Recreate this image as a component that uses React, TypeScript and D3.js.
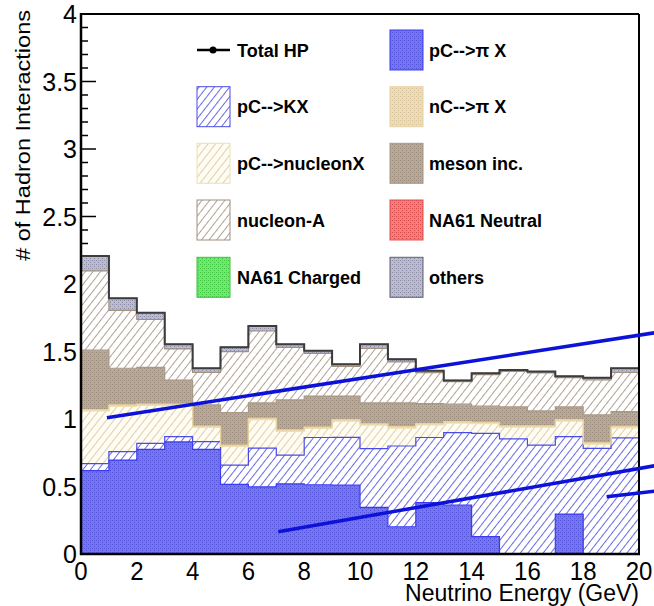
import React from 'react';
import * as d3 from 'd3';

// ---------- data (20 bins of 1 GeV) ----------
const binLow = [0, 1, 2, 3, 4, 5, 6, 7, 8, 9, 10, 11, 12, 13, 14, 15, 16, 17, 18, 19];
const binWidth = 1;

const pCpiX = [0.617, 0.696, 0.775, 0.83, 0.775, 0.516, 0.497, 0.52, 0.513, 0.51, 0.346, 0.202, 0.38, 0.363, 0.128, 0.003, 0.0, 0.296, 0.0, 0.0];
const pCKX = [0.053, 0.062, 0.045, 0.039, 0.057, 0.143, 0.288, 0.213, 0.35, 0.354, 0.434, 0.598, 0.483, 0.536, 0.766, 0.85, 0.807, 0.573, 0.783, 0.86];
const pCnucleonX = [0.39, 0.336, 0.281, 0.232, 0.106, 0.138, 0.21, 0.176, 0.067, 0.121, 0.175, 0.133, 0.093, 0.071, 0.071, 0.087, 0.133, 0.116, 0.031, 0.075];
const nCpiX = [0.01, 0.01, 0.01, 0.01, 0.01, 0.01, 0.01, 0.01, 0.01, 0.01, 0.01, 0.01, 0.01, 0.01, 0.01, 0.01, 0.01, 0.01, 0.01, 0.01];
const mesonInc = [0.44, 0.272, 0.272, 0.178, 0.156, 0.24, 0.115, 0.222, 0.23, 0.175, 0.155, 0.177, 0.149, 0.13, 0.12, 0.14, 0.11, 0.095, 0.206, 0.109];
const nucleonA = [0.587, 0.428, 0.354, 0.23, 0.242, 0.452, 0.532, 0.39, 0.316, 0.22, 0.403, 0.303, 0.228, 0.166, 0.233, 0.263, 0.281, 0.216, 0.26, 0.292];
const na61Neutral = [0, 0, 0, 0, 0, 0, 0, 0, 0, 0, 0, 0, 0, 0, 0, 0, 0, 0, 0, 0];
const na61Charged = [0, 0, 0, 0, 0, 0, 0, 0, 0, 0, 0, 0, 0, 0, 0, 0, 0, 0, 0, 0];
const others = [0.11, 0.09, 0.05, 0.034, 0.03, 0.032, 0.037, 0.022, 0.02, 0.015, 0.03, 0.02, 0.015, 0.01, 0.01, 0.01, 0.01, 0.01, 0.015, 0.03];

const xTickLabels = [0, 2, 4, 6, 8, 10, 12, 14, 16, 18, 20];
const yTickLabels = [0, 0.5, 1, 1.5, 2, 2.5, 3, 3.5, 4];

// annotation lines (data units, they run past the frame)
const annotationLines = [
  { x1: 0.93, y1: 1.01, x2: 20.6, y2: 1.64 },
  { x1: 7.07, y1: 0.165, x2: 20.6, y2: 0.655 },
  { x1: 18.84, y1: 0.424, x2: 20.6, y2: 0.467 },
];

// ---------- styles ----------
const layers = [
  { key: 'pCpiX', label: 'pC-->\u03c0 X', values: pCpiX, fill: 'url(#pDotBlue)', stroke: '#3a3af6' },
  { key: 'pCKX', label: 'pC-->KX', values: pCKX, fill: 'url(#pHatchBlue)', stroke: '#4a4ae8' },
  { key: 'pCnucleonX', label: 'pC-->nucleonX', values: pCnucleonX, fill: 'url(#pHatchCream)', stroke: '#f0dfae' },
  { key: 'nCpiX', label: 'nC-->\u03c0 X', values: nCpiX, fill: 'url(#pDotTan)', stroke: '#e8d2a0' },
  { key: 'mesonInc', label: 'meson inc.', values: mesonInc, fill: 'url(#pDotBrown)', stroke: '#a89888' },
  { key: 'nucleonA', label: 'nucleon-A', values: nucleonA, fill: 'url(#pHatchBrown)', stroke: '#a09080' },
  { key: 'na61Neutral', label: 'NA61 Neutral', values: na61Neutral, fill: 'url(#pDotRed)', stroke: '#e05050' },
  { key: 'na61Charged', label: 'NA61 Charged', values: na61Charged, fill: 'url(#pDotGreen)', stroke: '#40c040' },
  { key: 'others', label: 'others', values: others, fill: 'url(#pDotGray)', stroke: '#606070' },
];

const legendOrder = ['total', 'pCpiX', 'pCKX', 'nCpiX', 'pCnucleonX', 'mesonInc', 'nucleonA', 'na61Neutral', 'na61Charged', 'others'];

const W = 654;
const H = 606;
const FONT = "'Liberation Sans', Arial, Helvetica, sans-serif";

const x = d3.scaleLinear().domain([0, 20]).range([81, 639]);
const y = d3.scaleLinear().domain([0, 4]).range([554, 14]);

function DotPattern({ id, base, dot }: { id: string; base: string; dot: string }) {
  return (
    <pattern id={id} width={4} height={4} patternUnits="userSpaceOnUse">
      <rect width={4} height={4} fill={base} />
      <rect x={0} y={0} width={1} height={1} fill={dot} />
      <rect x={2} y={2} width={1} height={1} fill={dot} />
      <rect x={2} y={0} width={1} height={1} fill={dot} opacity={0.5} />
    </pattern>
  );
}

function HatchPattern({ id, bg, line }: { id: string; bg: string; line: string }) {
  return (
    <pattern id={id} width={6} height={6} patternUnits="userSpaceOnUse" patternTransform="rotate(38)">
      <rect width={6} height={6} fill={bg} />
      <line x1={0.5} y1={0} x2={0.5} y2={6} stroke={line} strokeWidth={1} />
    </pattern>
  );
}

export default function App() {
  const rows = binLow.map((b, i) => {
    const r: any = { b };
    layers.forEach((l) => (r[l.key] = l.values[i]));
    return r;
  });
  const stack = d3.stack().keys(layers.map((l) => l.key));
  const series = stack(rows);

  const stepPts = (s: any) => {
    const pts = s.map((d: any, i: number) => ({ x: binLow[i], y0: d[0], y1: d[1] }));
    const last = s[s.length - 1];
    pts.push({ x: binLow[binLow.length - 1] + binWidth, y0: last[0], y1: last[1] });
    return pts;
  };

  const area = d3
    .area<any>()
    .curve(d3.curveStepAfter)
    .x((d) => x(d.x))
    .y0((d) => y(d.y0))
    .y1((d) => y(d.y1));

  const topLine = (pts: any[]) => {
    const line = d3
      .line<any>()
      .curve(d3.curveStepAfter)
      .x((d) => x(d.x))
      .y((d) => y(d.y1));
    const d = line(pts) as string;
    const first = pts[0];
    const last = pts[pts.length - 1];
    return `M${x(first.x)},${y(0)}L${x(first.x)},${y(first.y1)}` + d.replace(/^M[^L]*/, '') + `L${x(last.x)},${y(0)}`;
  };

  const totalSeries = series[series.length - 1];
  const totalPts = stepPts(totalSeries);

  const yMinor = d3.range(0, 41).map((k) => k / 10);
  const xMinor = d3.range(0, 51).map((k) => k * 0.4);

  const legendRowY = [50, 106.7, 163.3, 220, 277.3];
  const legendColBoxX = [197, 390];
  const legendColTextX = [237, 429];

  return (
    <svg width={W} height={H} style={{ position: 'absolute', left: 0, top: 0, background: '#fff' }} fontFamily={FONT}>
      <defs>
        <DotPattern id="pDotBlue" base="#7676f2" dot="#5050d8" />
        <DotPattern id="pDotTan" base="#eedcb8" dot="#d8c49c" />
        <DotPattern id="pDotBrown" base="#b7a899" dot="#9a8a7a" />
        <DotPattern id="pDotRed" base="#ff7a7a" dot="#d04848" />
        <DotPattern id="pDotGreen" base="#6cec6c" dot="#40c040" />
        <DotPattern id="pDotGray" base="#bcbcd0" dot="#8a8aa4" />
        <HatchPattern id="pHatchBlue" bg="#ffffff" line="#6a6ae4" />
        <HatchPattern id="pHatchCream" bg="#fffcf2" line="#dccfb4" />
        <HatchPattern id="pHatchBrown" bg="#ffffff" line="#b0a396" />
      </defs>
      <rect x={0} y={0} width={W} height={H} fill="#fff" />

      {/* x ticks (under fill) */}
      {xMinor.map((t, i) => {
        const major = Math.abs(t / 2 - Math.round(t / 2)) < 1e-6;
        return (
          <line key={'xt' + i} x1={x(t)} x2={x(t)} y1={y(0)} y2={y(0) - (major ? 15 : 7)} stroke="#000" strokeWidth={1.5} />
        );
      })}
      {/* y ticks (under fill) */}
      {yMinor.map((t, i) => {
        const major = i % 5 === 0;
        return (
          <line key={'yt' + i} x1={x(0)} x2={x(0) + (major ? 15 : 7)} y1={y(t)} y2={y(t)} stroke="#000" strokeWidth={1.5} />
        );
      })}

      {/* stacked layers */}
      {series.map((s, li) => (
        <path key={'a' + li} d={area(stepPts(s)) as string} fill={layers[li].fill} stroke="none" />
      ))}
      {series.map((s, li) =>
        d3.max(layers[li].values) > 0 ? (
          <path key={'l' + li} d={topLine(stepPts(s))} fill="none" stroke={layers[li].stroke} strokeWidth={1.2} />
        ) : null
      )}
      {/* Total HP outline */}
      <path d={topLine(totalPts)} fill="none" stroke="#3c3c3c" strokeWidth={2} />

      {/* frame */}
      <line x1={x(0)} x2={x(20)} y1={y(4)} y2={y(4)} stroke="#000" strokeWidth={2} />
      <line x1={x(20)} x2={x(20)} y1={y(4)} y2={y(0)} stroke="#000" strokeWidth={2} />
      <line x1={x(0)} x2={x(0)} y1={y(4) - 1} y2={y(0) + 1} stroke="#000" strokeWidth={2.5} />
      <line x1={x(0) - 1} x2={x(20) + 1} y1={y(0)} y2={y(0)} stroke="#000" strokeWidth={2.5} />

      {/* annotation lines */}
      {annotationLines.map((a, i) => (
        <line key={'ann' + i} x1={x(a.x1)} y1={y(a.y1)} x2={x(a.x2)} y2={y(a.y2)} stroke="#0c12d8" strokeWidth={3.5} />
      ))}

      {/* y tick labels */}
      {yTickLabels.map((t) => (
        <text key={'yl' + t} transform={`translate(77,${y(t) + 9}) scale(1,1.06)`} textAnchor="end" fontSize={25} fill="#000">
          {String(t)}
        </text>
      ))}
      {/* x tick labels */}
      {xTickLabels.map((t) => (
        <text key={'xl' + t} transform={`translate(${x(t)},${580}) scale(1,1.08)`} textAnchor="middle" fontSize={24} fill="#000">
          {String(t)}
        </text>
      ))}

      {/* axis titles */}
      <text transform={`translate(639,601) scale(1,1.05)`} textAnchor="end" fontSize={23} fill="#000">
        Neutrino Energy (GeV)
      </text>
      <text transform={`translate(30,10) rotate(-90) scale(1.12,1)`} textAnchor="end" fontSize={21} fill="#000">
        # of Hadron Interactions
      </text>

      {/* legend */}
      {legendOrder.map((k, i) => {
        const col = i % 2;
        const row = Math.floor(i / 2);
        const cy = legendRowY[row];
        const bx = legendColBoxX[col];
        const tx = legendColTextX[col];
        if (k === 'total') {
          return (
            <g key={k}>
              <line x1={bx} x2={bx + 33} y1={cy} y2={cy} stroke="#000" strokeWidth={2.5} />
              <circle cx={bx + 16} cy={cy} r={3.5} fill="#000" />
              <text x={tx} y={cy + 6.5} fontSize={18} fontWeight="bold" fill="#000">
                Total HP
              </text>
            </g>
          );
        }
        const l = layers.find((d) => d.key === k)!;
        return (
          <g key={k}>
            <rect x={bx} y={cy - 20} width={33} height={40} fill={l.fill} stroke={l.stroke} strokeWidth={1} />
            <text x={tx} y={cy + 6.5} fontSize={18} fontWeight="bold" fill="#000">
              {l.label}
            </text>
          </g>
        );
      })}
    </svg>
  );
}
